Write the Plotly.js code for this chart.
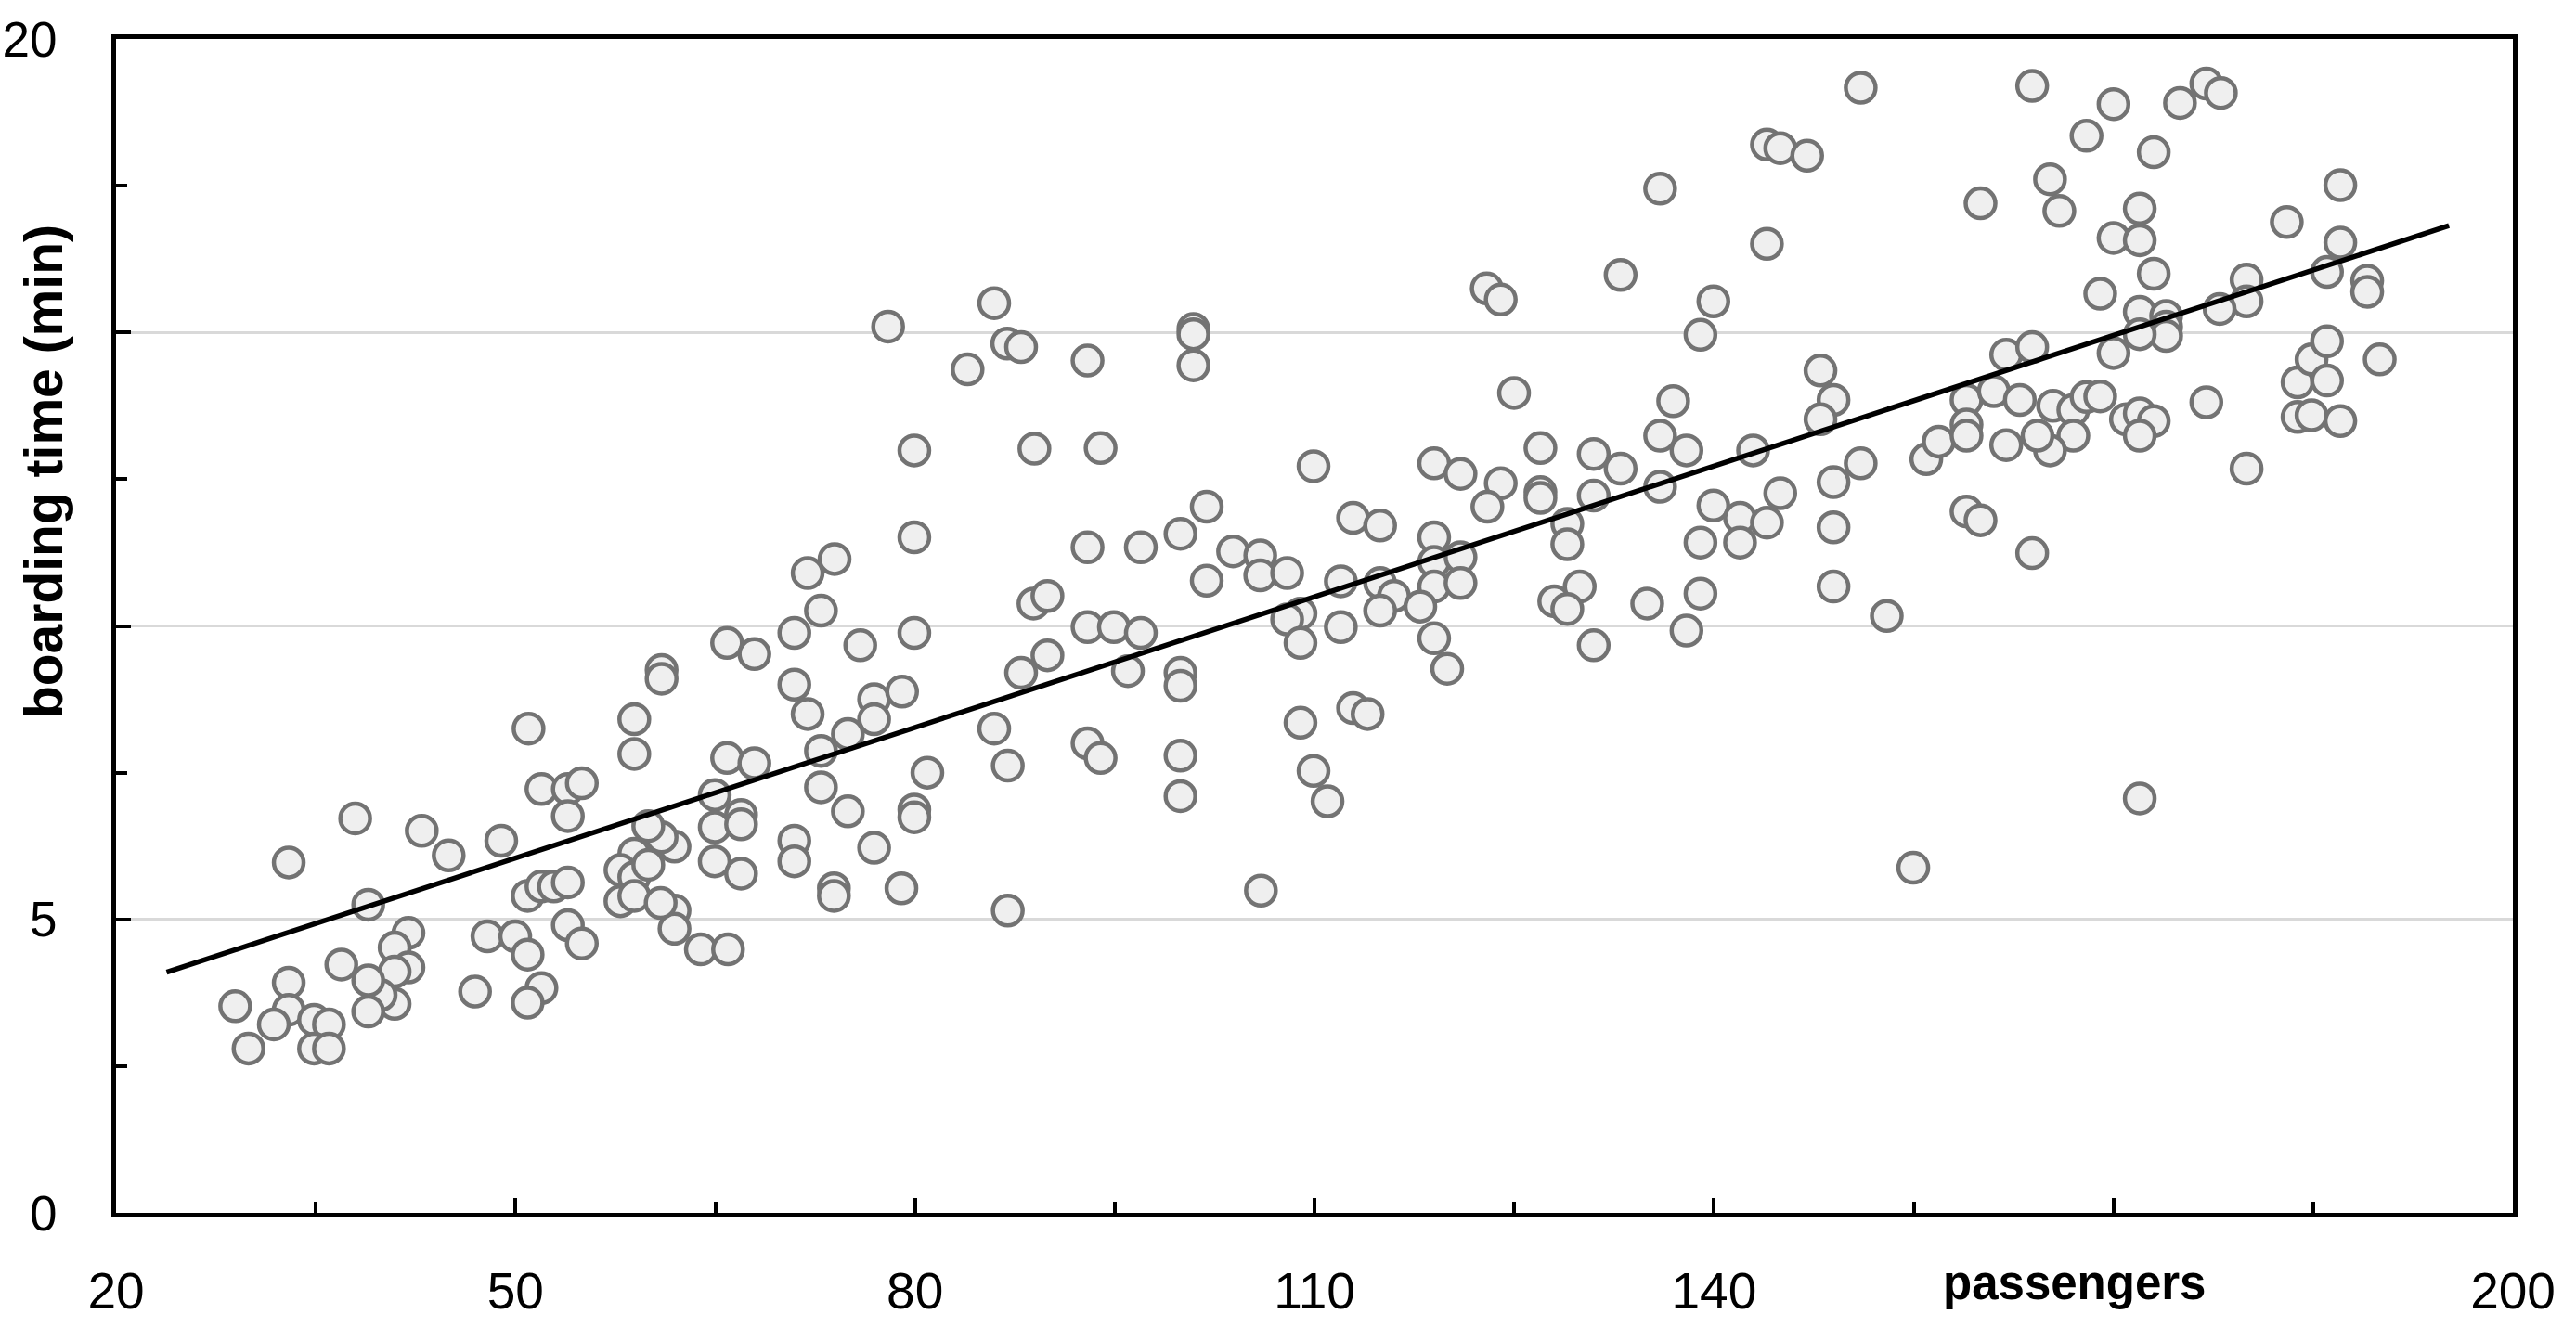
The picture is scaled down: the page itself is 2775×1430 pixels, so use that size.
<!DOCTYPE html>
<html>
<head>
<meta charset="utf-8">
<script src="https://cdn.plot.ly/plotly-3.0.1.min.js"></script>
<style>html,body{margin:0;padding:0;background:#fff;}#chart{width:2775px;height:1430px;}</style>
</head>
<body>
<div id="chart"></div>
<script>
// passengers (x) and boarding time in minutes (y)
const passengers = [
50.98,51.95,53.93,54.98,53.93,37.96,32.97,42.96,44.98,48.93,38.94,50.91,51.95,52.88,53.93,53.93,54.98,47.89,49.98,50.91,51.95,50.91,46.96,41.96,40.92,41.96,40.92,40.92,39.87,38.94,38.94,36.92,32.97,32.97,28.95,31.85,34.87,35.99,29.95,34.87,35.99,
77.98,85.95,83.95,86.93,87.97,79.95,88.97,79.95,71.94,73.96,72.94,70.94,65.89,67.94,75.89,79.95,88.90,89.95,89.95,87.97,60.97,60.97,58.92,58.92,65.89,67.94,70.94,71.94,76.93,79.03,76.93,74.96,72.94,72.94,64.96,64.96,66.94,66.94,74.96,80.93,79.95,79.95,85.95,86.97,76.93,70.94,70.94,73.91,73.91,78.98,86.97,64.96,66.94,61.94,61.94,61.94,63.92,65.96,60.97,59.97,58.92,57.88,58.92,59.97,57.88,58.92,60.90,
92.96,100.91,100.91,100.91,93.94,122.94,123.99,124.99,109.93,118.99,120.97,123.99,126.97,126.97,126.97,122.99,101.91,99.94,92.96,96.96,103.89,101.91,105.93,105.93,107.95,112.90,114.93,118.99,118.99,120.97,118.99,120.97,111.98,114.93,115.97,114.93,117.95,118.99,119.97,111.98,108.95,107.95,108.95,128.01,92.96,94.94,96.96,95.99,99.94,99.94,92.96,93.94,99.94,99.94,108.95,112.90,113.99,109.93,110.98,105.98,
151.02,163.90,143.98,144.98,147.00,135.96,160.02,143.98,132.99,139.96,138.99,148.00,148.98,148.00,136.94,135.96,130.97,132.99,137.94,142.94,135.96,130.97,139.96,141.96,144.98,143.98,138.99,141.96,148.98,151.02,148.98,148.98,128.99,128.99,129.92,128.99,134.99,138.99,137.94,130.97,152.98,154.97,155.95,156.88,158.97,158.97,158.97,161.02,161.95,162.97,163.90,161.95,158.97,160.02,163.90,
170.01,167.98,165.24,165.94,175.00,176.98,178.07,173.03,171.98,170.01,171.98,173.03,169.01,187.04,183.02,187.04,186.04,189.06,189.06,180.00,180.00,177.98,171.98,173.96,173.96,173.96,171.98,170.01,165.47,166.99,167.98,169.01,166.99,165.24,164.30,170.94,171.98,173.03,171.98,176.98,180.00,183.83,184.88,186.04,186.04,183.83,184.88,187.04,190.00,171.98
];
const boardingTime = [
8.25,7.22,7.22,7.32,6.76,6.72,5.97,6.51,6.09,6.34,5.25,5.40,5.56,5.56,5.63,4.90,4.59,4.71,4.71,4.40,3.83,3.58,3.77,4.77,4.52,4.18,4.11,3.56,3.71,3.96,3.43,4.23,3.92,3.46,3.52,3.21,3.29,3.21,2.80,2.80,2.80,
15.10,15.50,14.37,14.81,14.75,12.99,13.02,11.51,10.90,11.14,10.26,9.88,9.71,9.52,9.67,9.88,10.38,10.51,9.50,9.20,9.25,9.10,8.41,7.82,7.75,7.66,9.00,8.50,8.75,8.88,8.41,8.16,7.87,7.25,7.12,6.57,6.78,6.62,6.84,7.50,6.87,6.74,8.25,7.62,6.22,6.34,5.99,5.53,5.40,5.53,5.15,5.99,5.78,6.24,5.15,4.84,4.49,4.49,6.40,6.59,6.12,5.84,5.72,5.93,5.31,5.40,5.28,
14.52,15.06,14.97,14.44,13.03,15.75,15.56,13.97,12.72,12.77,12.59,12.43,13.03,12.28,12.18,12.03,12.03,11.57,11.34,11.34,11.27,10.77,11.20,10.86,10.90,11.84,11.71,11.51,11.09,11.17,10.67,10.73,10.76,10.73,10.51,10.26,10.33,9.79,9.27,9.98,10.21,10.11,9.71,10.42,9.98,9.98,9.88,9.23,9.20,8.98,8.00,7.75,7.79,7.10,8.35,8.60,8.50,7.53,7.01,5.49,
19.17,19.20,18.20,18.14,18.01,17.45,17.20,16.51,15.98,15.53,14.96,14.35,13.85,13.52,13.83,13.24,12.93,12.68,12.99,12.99,12.37,12.22,12.05,11.84,12.26,11.76,11.42,11.42,12.45,12.77,11.68,10.67,11.74,11.39,10.67,10.29,10.38,10.55,9.92,9.67,10.17,5.88,12.84,13.14,13.85,13.43,13.24,14.00,14.62,13.85,14.75,13.08,11.95,11.80,11.24,
18.89,18.35,17.61,17.07,18.91,19.24,19.08,18.07,17.11,16.61,16.57,16.00,15.66,17.51,16.88,16.53,16.03,15.88,15.69,15.90,15.53,15.40,15.35,15.28,15.10,14.94,14.97,14.65,13.75,13.68,13.90,13.91,13.24,12.99,13.24,13.52,13.62,13.49,13.24,13.81,12.68,14.15,14.54,14.85,14.18,13.56,13.59,13.49,14.54,7.06
];
// fitted trend line end points
const trendX = [23.8, 195.2];
const trendY = [4.10, 16.82];
// tick labels
const xTickVals = [20, 50, 80, 110, 140, 170, 200];
const xTickText = ["20", "50", "80", "110", "140", "", "200"];
const yTickVals = [0, 5, 10, 15, 20];
const yTickText = ["0", "5", "", "", "20"];

const FONT = "Liberation Sans, Arial, sans-serif";

const traces = [
  {
    type: "scatter", mode: "markers", x: passengers, y: boardingTime,
    marker: {symbol: "circle", size: 32, color: "#efefef", line: {color: "#737373", width: 4.5}},
    hoverinfo: "skip"
  },
  {
    type: "scatter", mode: "lines", x: trendX, y: trendY,
    line: {color: "#000000", width: 5.5}, hoverinfo: "skip"
  }
];

const layout = {
  width: 2775, height: 1430,
  margin: {l: 125, r: 68, t: 42, b: 123, pad: 0},
  paper_bgcolor: "#ffffff", plot_bgcolor: "#ffffff",
  showlegend: false,
  font: {family: FONT, color: "#000000"},
  xaxis: {
    range: [20, 200], tickmode: "array", tickvals: xTickVals, ticktext: xTickText,
    ticks: "inside", ticklen: 16, tickwidth: 4, tickcolor: "#000",
    minor: {dtick: 15, tick0: 20, ticks: "inside", ticklen: 12, tickwidth: 4, tickcolor: "#000", showgrid: false},
    showline: true, linecolor: "#000", linewidth: 5, mirror: true,
    showgrid: false, zeroline: false,
    tickfont: {family: FONT, size: 55, color: "#000"},
    ticklabelstandoff: 32
  },
  yaxis: {
    range: [0, 20], tickmode: "array", tickvals: yTickVals, ticktext: yTickText,
    ticks: "inside", ticklen: 16, tickwidth: 4, tickcolor: "#000",
    minor: {dtick: 2.5, tick0: 0, ticks: "inside", ticklen: 12, tickwidth: 4, tickcolor: "#000", showgrid: false},
    showline: true, linecolor: "#000", linewidth: 5, mirror: true,
    showgrid: true, gridcolor: "#d9d9d9", gridwidth: 3, zeroline: false,
    tickfont: {family: FONT, size: 53, color: "#000"},
    ticklabelstandoff: 48
  },
  annotations: [
    {
      text: "<b>boarding time (min)</b>", xref: "paper", yref: "paper",
      x: -0.0302, y: 0.6316, xanchor: "center", yanchor: "middle", textangle: -90,
      showarrow: false, font: {family: FONT, size: 57, color: "#000"}
    },
    {
      text: "<b>passengers</b>", xref: "paper", yref: "paper",
      x: 0.8172, y: -0.0593, xanchor: "center", yanchor: "middle",
      showarrow: false, font: {family: FONT, size: 51, color: "#000"}
    }
  ]
};

Plotly.newPlot("chart", traces, layout, {staticPlot: true, displayModeBar: false});
</script>
</body>
</html>
